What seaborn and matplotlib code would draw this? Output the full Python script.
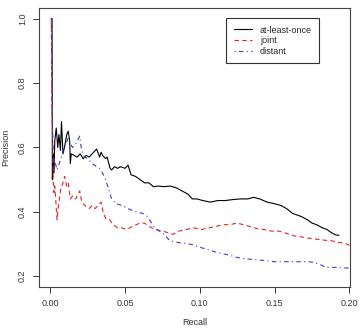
# Precision-recall curves, R base-graphics look

import seaborn as sns
import pandas as pd
import matplotlib.pyplot as plt

# at-least-once
recall_alo = [0.0007, 0.0012, 0.0014, 0.002, 0.0025, 0.003, 0.004, 0.005, 0.0058, 0.0068,
              0.0075, 0.0085, 0.0095, 0.011, 0.012, 0.013, 0.0134, 0.014, 0.016, 0.018,
              0.020, 0.022, 0.024, 0.026, 0.028, 0.030, 0.031, 0.033, 0.034, 0.035,
              0.037, 0.038, 0.040, 0.041, 0.043, 0.045, 0.047, 0.050, 0.052, 0.054,
              0.057, 0.060, 0.063, 0.066, 0.069, 0.072, 0.076, 0.080, 0.084, 0.088,
              0.092, 0.095, 0.098, 0.102, 0.107, 0.112, 0.117, 0.122, 0.127, 0.132,
              0.136, 0.140, 0.145, 0.150, 0.154, 0.158, 0.162, 0.165, 0.168, 0.172,
              0.175, 0.178, 0.182, 0.185, 0.188, 0.191, 0.193]
precision_alo = [1.0, 1.0, 0.5, 0.58, 0.52, 0.62, 0.66, 0.60, 0.64, 0.59,
                 0.68, 0.58, 0.60, 0.64, 0.65, 0.62, 0.55, 0.58, 0.575, 0.57,
                 0.58, 0.565, 0.575, 0.57, 0.58, 0.59, 0.595, 0.57, 0.585, 0.575,
                 0.565, 0.57, 0.535, 0.53, 0.54, 0.535, 0.54, 0.535, 0.545, 0.515,
                 0.51, 0.5, 0.49, 0.49, 0.478, 0.48, 0.478, 0.48, 0.475, 0.465,
                 0.455, 0.44, 0.44, 0.435, 0.43, 0.435, 0.435, 0.438, 0.44, 0.44,
                 0.445, 0.44, 0.43, 0.425, 0.42, 0.41, 0.395, 0.39, 0.385, 0.375,
                 0.365, 0.36, 0.35, 0.345, 0.335, 0.328, 0.327]

# joint
recall_joint = [0.0007, 0.0012, 0.0015, 0.002, 0.0025, 0.003, 0.0035, 0.0045, 0.0055, 0.007,
                0.0085, 0.0096, 0.011, 0.012, 0.0135, 0.015, 0.017, 0.0185, 0.0197, 0.021,
                0.023, 0.026, 0.028, 0.030, 0.032, 0.034, 0.0355, 0.037, 0.039, 0.042,
                0.045, 0.048, 0.051, 0.055, 0.060, 0.063, 0.066, 0.070, 0.075, 0.079,
                0.082, 0.086, 0.091, 0.096, 0.101, 0.106, 0.111, 0.116, 0.120, 0.125,
                0.129, 0.133, 0.138, 0.143, 0.148, 0.153, 0.158, 0.163, 0.168, 0.173,
                0.178, 0.183, 0.188, 0.193, 0.197, 0.2]
precision_joint = [1.0, 0.70, 0.65, 0.50, 0.46, 0.48, 0.45, 0.375, 0.42, 0.47,
                   0.49, 0.51, 0.48, 0.49, 0.44, 0.45, 0.44, 0.455, 0.465, 0.43,
                   0.42, 0.41, 0.42, 0.41, 0.42, 0.43, 0.395, 0.38, 0.38, 0.36,
                   0.35, 0.35, 0.345, 0.355, 0.365, 0.365, 0.355, 0.345, 0.34, 0.335,
                   0.33, 0.34, 0.345, 0.35, 0.345, 0.35, 0.355, 0.36, 0.36, 0.365,
                   0.36, 0.355, 0.348, 0.345, 0.34, 0.34, 0.333, 0.325, 0.322, 0.318,
                   0.315, 0.312, 0.31, 0.305, 0.302, 0.296]

# distant
recall_dist = [0.0007, 0.0012, 0.0018, 0.0025, 0.003, 0.0045, 0.006, 0.0075, 0.009, 0.0105,
               0.012, 0.0135, 0.015, 0.017, 0.0197, 0.021, 0.023, 0.025, 0.028, 0.031,
               0.033, 0.035, 0.037, 0.039, 0.041, 0.044, 0.048, 0.052, 0.057, 0.062,
               0.065, 0.067, 0.070, 0.073, 0.076, 0.080, 0.085, 0.090, 0.095, 0.100,
               0.105, 0.110, 0.115, 0.120, 0.125, 0.130, 0.135, 0.140, 0.145, 0.150,
               0.155, 0.160, 0.165, 0.170, 0.175, 0.178, 0.181, 0.184, 0.188, 0.192,
               0.196, 0.2]
precision_dist = [1.0, 0.75, 0.6, 0.55, 0.56, 0.53, 0.55, 0.57, 0.6, 0.61,
                  0.63, 0.61, 0.6, 0.61, 0.635, 0.59, 0.57, 0.565, 0.55, 0.54,
                  0.535, 0.52, 0.5, 0.47, 0.44, 0.425, 0.42, 0.41, 0.4, 0.395,
                  0.385, 0.37, 0.35, 0.34, 0.33, 0.31, 0.305, 0.302, 0.298, 0.29,
                  0.283, 0.276, 0.27, 0.265, 0.258, 0.255, 0.252, 0.25, 0.248, 0.245,
                  0.245, 0.245, 0.245, 0.245, 0.244, 0.24, 0.235, 0.228, 0.228, 0.227,
                  0.226, 0.225]

x_ticks = [0.00, 0.05, 0.10, 0.15, 0.20]
y_ticks = [0.2, 0.4, 0.6, 0.8, 1.0]

sns.set_style("ticks")
plt.rcParams['font.family'] = ['Liberation Sans', 'DejaVu Sans']

fig = plt.figure(figsize=(3.6, 3.3), dpi=100)
ax = fig.add_axes([0.1097, 0.1318, 0.8639, 0.843])

series = [
    ("at-least-once", recall_alo, precision_alo, "black", (None, None)),
    ("joint", recall_joint, precision_joint, "#e8221f", (4, 3)),
    ("distant", recall_dist, precision_dist, "#3a3ae0", (1, 3, 4, 3)),
]
for name, xs, ys, col, dash in series:
    df = pd.DataFrame({"Recall": xs, "Precision": ys})
    sns.lineplot(data=df, x="Recall", y="Precision", ax=ax, color=col,
                 estimator=None, sort=False, lw=0.8, label=name, dashes=False)
    if dash[0] is not None:
        ax.lines[-1].set_dashes(dash)

ax.set_xlim(-0.0072, 0.2007)
ax.set_ylim(0.168, 1.032)
ax.set_xticks(x_ticks)
ax.set_xticklabels([f"{v:.2f}" for v in x_ticks])
ax.set_yticks(y_ticks)
ax.set_yticklabels([f"{v:.1f}" for v in y_ticks], rotation=90, va="center")
ax.tick_params(labelsize=6.5, length=4, width=0.7, colors="#333333", pad=5)
for s in ax.spines.values():
    s.set_linewidth(0.8)
    s.set_color("#444444")

ax.set_xlabel("Recall", fontsize=6.5, color="#333333", va="center")
ax.xaxis.set_label_coords(0.5, -0.13)
ax.set_ylabel("Precision", fontsize=6.5, color="#333333", va="center")
ax.yaxis.set_label_coords(-0.11, 0.5)

leg = ax.legend(loc="upper right", bbox_to_anchor=(0.899, 0.964), borderaxespad=0,
                fontsize=6.5, fancybox=False, edgecolor="#333333", framealpha=1,
                handlelength=2.0, handletextpad=0.9, labelspacing=0.2, borderpad=0.8)
leg.get_frame().set_linewidth(0.8)

fig.savefig("out.png", dpi=100)
